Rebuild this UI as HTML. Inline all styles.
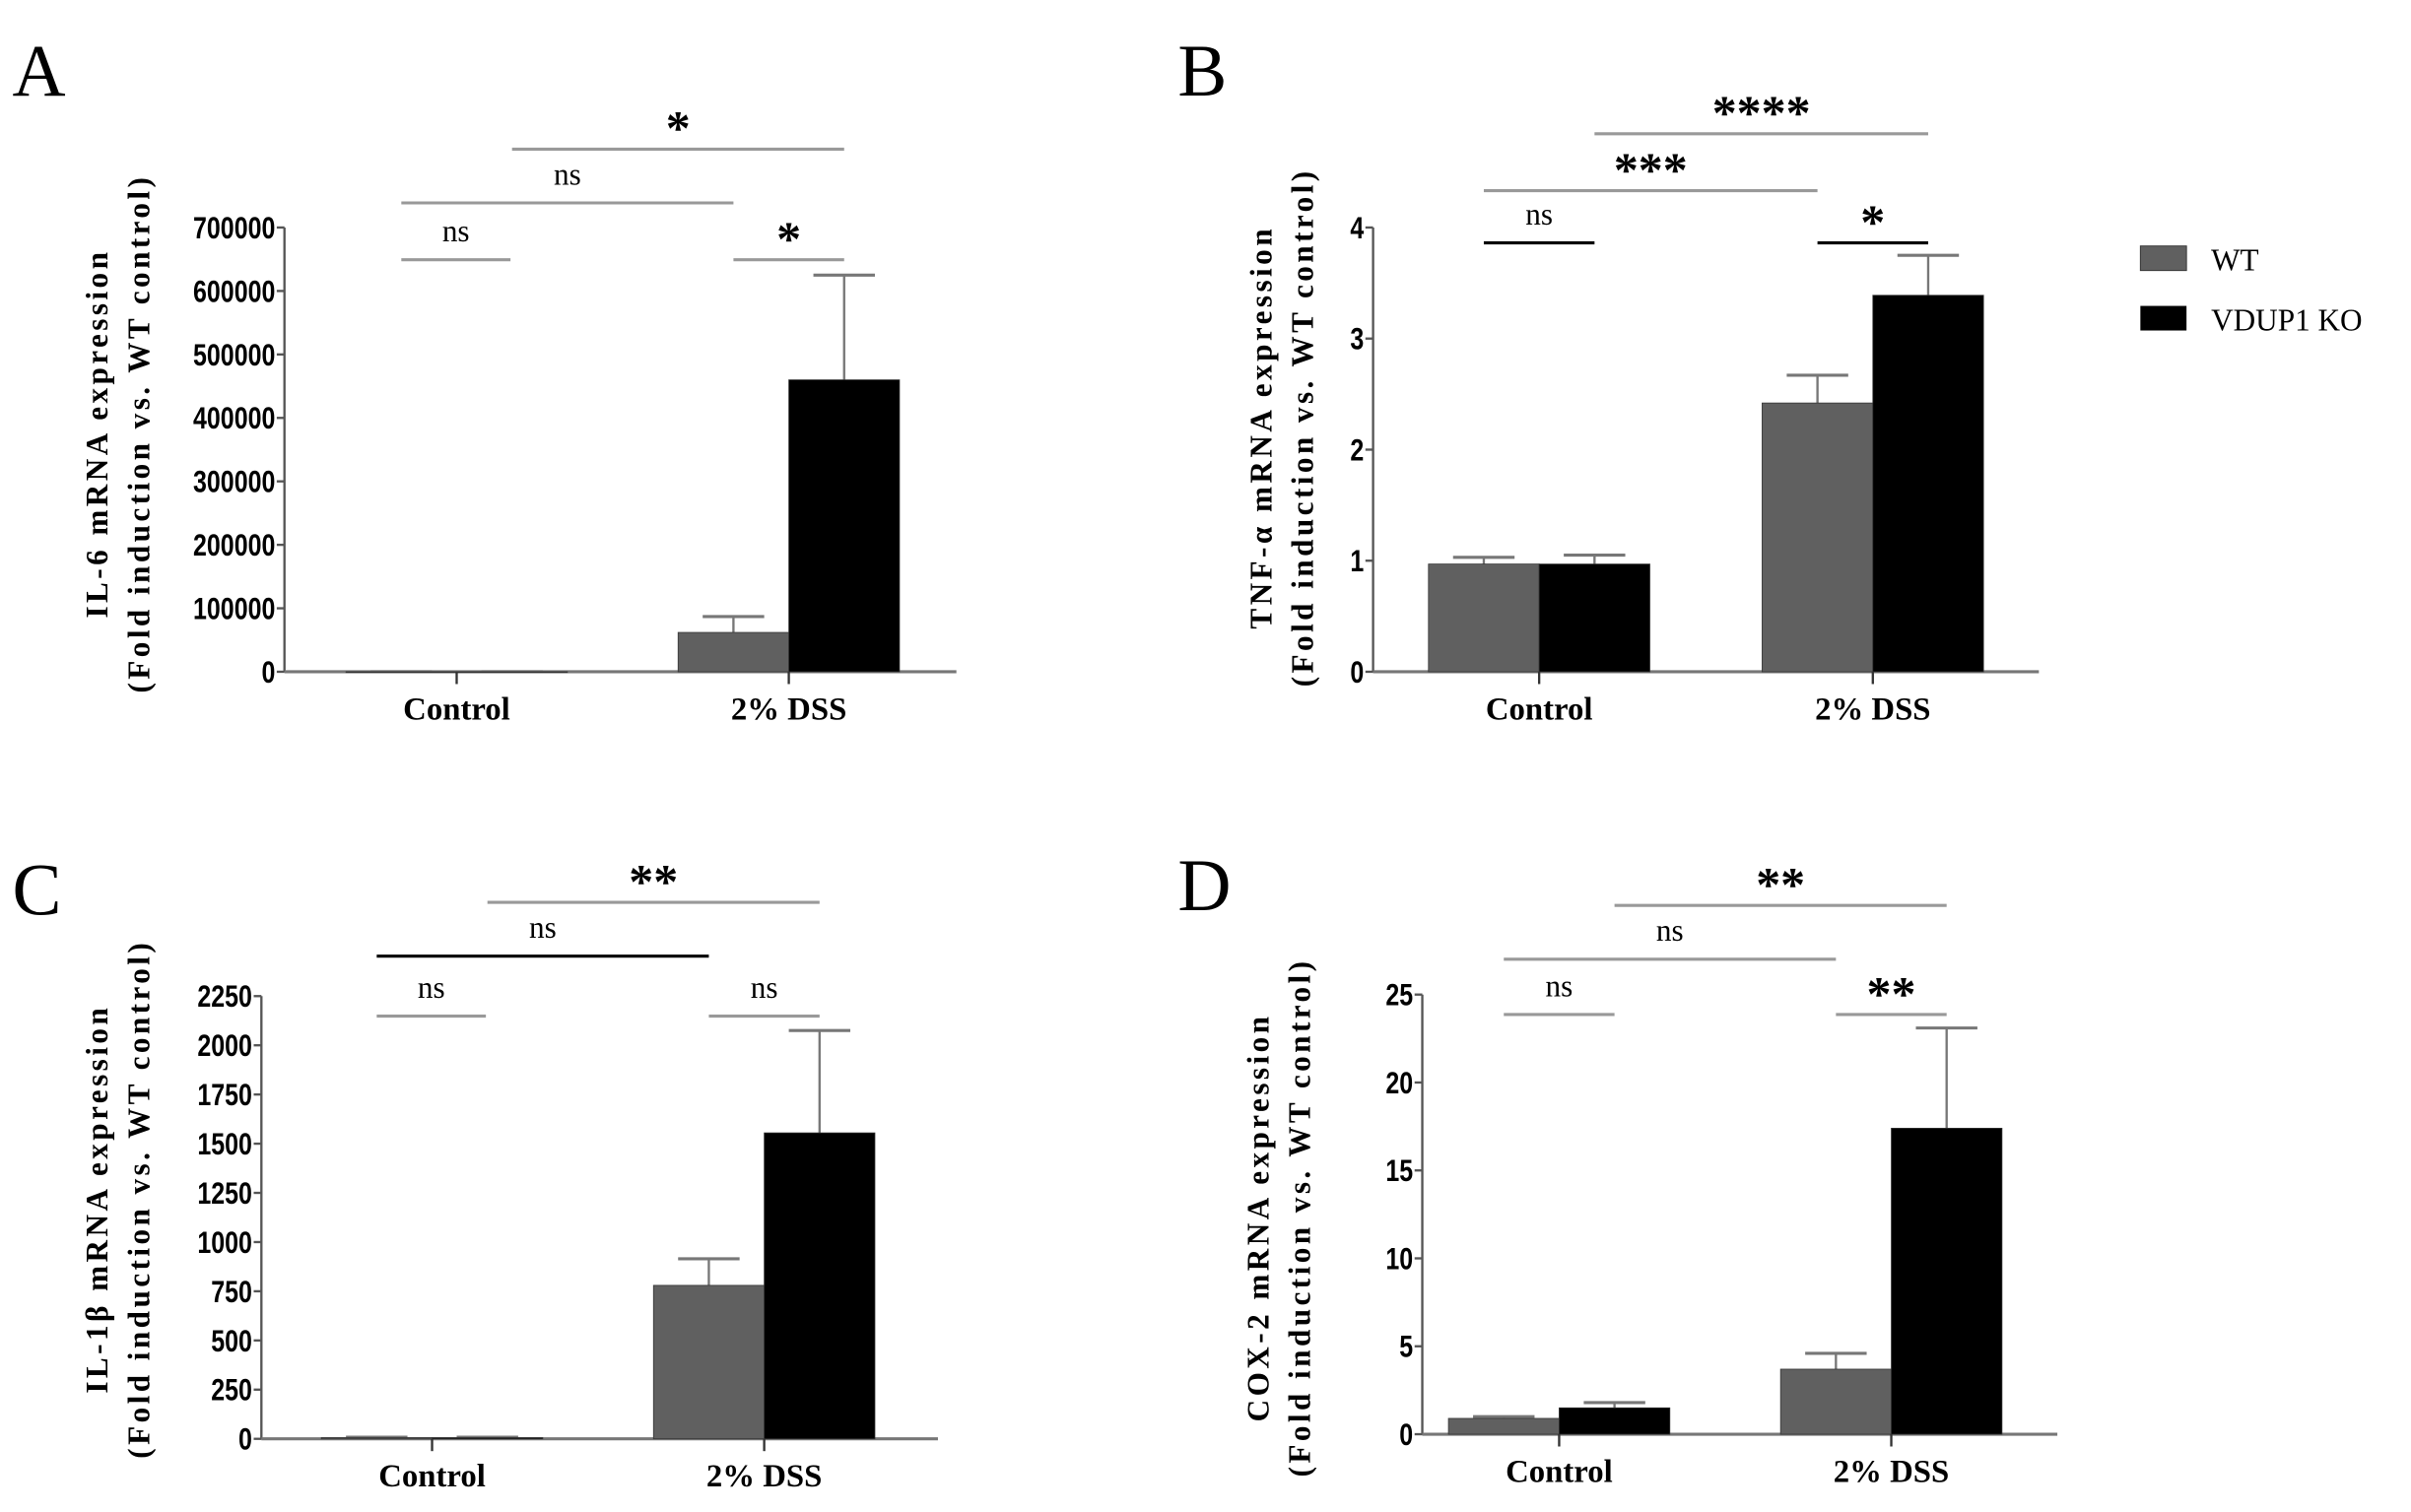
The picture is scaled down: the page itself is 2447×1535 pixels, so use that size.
<!DOCTYPE html>
<html><head><meta charset="utf-8"><style>
html,body{margin:0;padding:0;background:#fff;}
svg{display:block;}
</style></head><body>
<svg id="fig" width="2447" height="1535" viewBox="0 0 1568 983.6" xmlns="http://www.w3.org/2000/svg" font-family="'Liberation Serif', serif">
<g>
<rect x="1392" y="160" width="30" height="16" fill="#606060" stroke="#333" stroke-width="0.6"/>
<text x="1438" y="176" font-size="20">WT</text>
<rect x="1392" y="199" width="30" height="16" fill="#000"/>
<text x="1438" y="215" font-size="20">VDUP1 KO</text>
</g>
</svg>
<script>
const categories = ["Control", "2% DSS"];
const aWT = [1, 62000], aWTerr = [1, 87000], aKO = [1, 460000], aKOerr = [1, 625000];
const aTicks = [0,100000,200000,300000,400000,500000,600000,700000];
const bWT = [0.97, 2.42], bWTerr = [1.03, 2.67], bKO = [0.97, 3.39], bKOerr = [1.05, 3.75];
const bTicks = [0,1,2,3,4];
const cWT = [6, 780], cWTerr = [8, 915], cKO = [6, 1555], cKOerr = [8, 2075];
const cTicks = [0,250,500,750,1000,1250,1500,1750,2000,2250];
const dWT = [0.9, 3.7], dWTerr = [1.0, 4.6], dKO = [1.5, 17.4], dKOerr = [1.8, 23.1];
const dTicks = [0,5,10,15,20,25];

const svg = document.getElementById('fig');
const NS = 'http://www.w3.org/2000/svg';
function mk(tag, attrs, parent, txt){
  const e = document.createElementNS(NS, tag);
  for (const k in attrs) e.setAttribute(k, attrs[k]);
  if (txt !== undefined) e.textContent = txt;
  parent.appendChild(e);
  return e;
}
function panel(cfg){
  const g = mk('g', {}, svg);
  
  
  const ymax = cfg.ticks[cfg.ticks.length-1];
  const y = v => cfg.y0 - (v / ymax) * (cfg.y0 - cfg.ytop);
  const lt = mk('text', {x: cfg.lx, y: cfg.ly, 'font-size': 48}, g, cfg.letter);
  
  
  const ax = mk('line', {x1: cfg.ax, x2: cfg.ax, y1: cfg.ytop, y2: cfg.y0, stroke: '#555', 'stroke-width': 1.5}, g);
  
  
  const xa = mk('line', {x1: cfg.ax, x2: cfg.xend, y1: cfg.y0, y2: cfg.y0, stroke: '#777', 'stroke-width': 2}, g);
  
  
  cfg.ticks.forEach(t => {
    mk('line', {x1: cfg.ax-5, x2: cfg.ax, y1: y(t), y2: y(t), stroke: '#555', 'stroke-width': 1.5}, g);
    const tl = mk('text', {transform: `translate(${cfg.ax-6},${y(t)+7}) scale(0.8,1)`, 'font-size': 20, 'font-weight': 'bold', 'text-anchor': 'end', style: 'font-family:"Liberation Sans",sans-serif'}, g, String(t));
    
    
  });
  const series = [[cfg.wt, cfg.wte, '#606060', -1], [cfg.ko, cfg.koe, '#000', 1]];
  categories.forEach((c, i) => {
    const cx = cfg.cx[i];
    mk('line', {x1: cx, x2: cx, y1: cfg.y0, y2: cfg.y0+8, stroke: '#333', 'stroke-width': 1.5}, g);
    const cl = mk('text', {x: cx, y: cfg.y0+31, 'font-size': 21, 'font-weight': 'bold', 'text-anchor': 'middle'}, g, c);
    
    
    series.forEach(s => {
      const v = s[0][i], e = s[1][i];
      const x0 = s[3] < 0 ? cx - 72 : cx;
      const bc = x0 + 36;
      mk('line', {x1: bc, x2: bc, y1: y(v), y2: y(e), stroke: '#777', 'stroke-width': 1.5}, g);
      mk('line', {x1: bc-20, x2: bc+20, y1: y(e), y2: y(e), stroke: '#777', 'stroke-width': 2}, g);
      const r = mk('rect', {x: x0, y: y(v), width: 72, height: Math.max(cfg.y0 - y(v), 0.5), fill: s[2], stroke: '#333', 'stroke-width': 0.5}, g);
      
      
    });
  });
  const tt = mk('text', {transform: `translate(${cfg.tx},${cfg.ty}) rotate(-90)`, 'font-size': 20, 'font-weight': 'bold', 'text-anchor': 'middle', 'letter-spacing': 2.2}, g);
  
  
  mk('tspan', {x: 0, y: 0}, tt, cfg.title);
  mk('tspan', {x: 0, y: 27}, tt, '(Fold induction vs. WT control)');
  cfg.sig.forEach(s => {
    mk('line', {x1: s[0], x2: s[1], y1: s[2], y2: s[2], stroke: s[4] || '#999', 'stroke-width': 2}, g);
    const isNs = s[3] === 'ns';
    const st = mk('text', {x: (s[0]+s[1])/2, y: isNs ? s[2]-12 : s[2]-3, 'font-size': isNs ? 20 : 32, 'font-weight': isNs ? 'normal' : 'bold', 'text-anchor': 'middle'}, g, s[3]);
    
    
  });
}
panel({letter:'A', lx:8, ly:62, ax:185, xend:622, y0:437, ytop:148, ticks:aTicks, cx:[297,513], wt:aWT, wte:aWTerr, ko:aKO, koe:aKOerr, tx:70, ty:282, title:'IL-6 mRNA expression',
  sig:[[261,332,169,'ns'],[261,477,132,'ns'],[333,549,97,'*'],[477,549,169,'*']]});
panel({letter:'B', lx:766, ly:62, ax:893, xend:1326, y0:437, ytop:148, ticks:bTicks, cx:[1001,1218], wt:bWT, wte:bWTerr, ko:bKO, koe:bKOerr, tx:827, ty:278, title:'TNF-α mRNA expression',
  sig:[[965,1037,158,'ns','#000'],[965,1182,124,'***'],[1037,1254,87,'****'],[1182,1254,158,'*','#000']]});
panel({letter:'C', lx:8, ly:595, ax:170, xend:610, y0:936, ytop:648, ticks:cTicks, cx:[281,497], wt:cWT, wte:cWTerr, ko:cKO, koe:cKOerr, tx:70, ty:780, title:'IL-1β mRNA expression',
  sig:[[245,316,661,'ns'],[245,461,622,'ns','#000'],[317,533,587,'**'],[461,533,661,'ns']]});
panel({letter:'D', lx:766, ly:592, ax:925, xend:1338, y0:933, ytop:647, ticks:dTicks, cx:[1014,1230], wt:dWT, wte:dWTerr, ko:dKO, koe:dKOerr, tx:825, ty:792, title:'COX-2 mRNA expression',
  sig:[[978,1050,660,'ns'],[978,1194,624,'ns'],[1050,1266,589,'**'],[1194,1266,660,'**']]});
</script>
</body></html>
